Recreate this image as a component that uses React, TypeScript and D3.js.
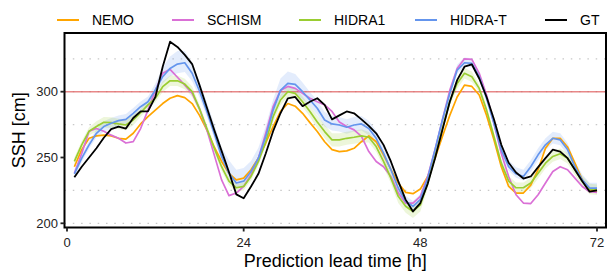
import React from "react";
import * as d3 from "d3";

// ---- data (hourly lead times 1..72) ----
const leadHours = [
  1, 2, 3, 4, 5, 6, 7, 8, 9, 10, 11, 12, 13, 14, 15, 16, 17, 18,
  19, 20, 21, 22, 23, 24, 25, 26, 27, 28, 29, 30, 31, 32, 33, 34, 35, 36,
  37, 38, 39, 40, 41, 42, 43, 44, 45, 46, 47, 48, 49, 50, 51, 52, 53, 54,
  55, 56, 57, 58, 59, 60, 61, 62, 63, 64, 65, 66, 67, 68, 69, 70, 71, 72,
];

const nemo = [
  243, 256, 264.6, 266.4, 267, 266.4, 264.6, 264, 268.4, 275.5, 281, 286, 291, 295, 297, 295.5, 291, 282,
  271, 258, 247, 238, 233, 234.3, 240.7, 249.5, 261, 273.5, 285, 291, 289, 283.6, 276.5, 269.7, 262, 256,
  254.5, 255, 257, 262, 266.4, 262, 252, 241, 230.6, 223.5, 222.5, 226, 235.6, 249.5, 266, 282, 296, 305,
  304, 297.5, 282, 263.4, 243, 228, 223, 223, 229, 240.7, 257, 264.6, 264.6, 258, 245.7, 233, 225.5, 224,
];

const schism = [
  238, 253, 270, 272, 270, 267, 264.6, 261, 262, 272, 286, 301, 314, 317, 311, 305, 298.7, 287,
  271, 252, 233, 221, 223, 228, 237, 249.5, 268.4, 288.6, 301, 304, 302.5, 298.7, 295, 292.4, 290, 285,
  277, 273.5, 271, 266, 254.5, 247, 243, 235.6, 223, 215.4, 215.4, 220.5, 235.6, 256, 278.5, 301, 317.7, 325,
  324.5, 314, 297.5, 276, 253, 235.6, 221.7, 215.4, 215, 221.7, 230.6, 239.4, 243, 240.7, 234.3, 228, 224, 223.5,
];

const hidra1 = [
  247, 259.6, 270, 273.5, 276.8, 276.5, 275.5, 274.7, 278.5, 284, 290, 295, 303.8, 308.3, 308.3, 305.8, 300, 287,
  272, 257, 243, 232, 227, 228, 235.6, 247, 262, 281, 293.7, 300, 298.7, 292.4, 285, 277, 269.7, 263.4,
  263.4, 264.6, 265.4, 266.4, 265.4, 258.3, 247, 234.3, 220.5, 213, 209, 214, 230.6, 250.8, 272, 292.4, 306.3, 314,
  311.4, 302.5, 286, 266, 245.7, 232, 227, 227, 230.6, 238, 245.7, 250.8, 252.8, 249.5, 240.7, 232, 226, 225.5,
];

const hidraT = [
  237.6, 249.5, 259.6, 268.4, 273.5, 276, 278, 279, 283.6, 288.6, 292.4, 301.3, 311.4, 317.7, 321, 322, 314, 300.5,
  285, 268.4, 250.8, 238, 230.6, 232, 239.4, 249.5, 266, 286, 301, 306.3, 305.5, 300, 293.7, 287.4, 278.5, 275.5,
  274.7, 273, 274.7, 275.5, 272, 264.6, 253.3, 240.7, 226.8, 216.7, 212.9, 218, 234.3, 256, 278.5, 298.7, 316.4, 322,
  321.5, 311.4, 295, 276, 255.8, 243, 237.6, 235.6, 243, 252, 259.6, 264.6, 263.4, 256, 243, 233, 226.8, 226.8,
];

const groundTruth = [
  235, 243, 250, 257, 265, 271.5, 273.5, 272, 280, 285, 285, 296, 319, 338, 334, 328, 321, 305,
  288, 271, 255, 239, 222, 219, 228, 237.6, 253, 270, 283.6, 295, 296, 289, 292.4, 295, 290, 279,
  282, 285, 283.6, 279, 274, 268.4, 259.6, 247, 232, 218, 209, 215.4, 230, 249.5, 271, 292.4, 308.8, 319,
  320.7, 310, 296, 279, 259.6, 246, 238.6, 234, 235.6, 242.7, 249.5, 256, 254.5, 249.5, 240.7, 232, 224, 225,
];

// band spreads (cm above / below the line)
const hidraTUp = [
  3, 3, 3, 3, 4, 4, 4, 4, 4, 4, 4, 5, 7, 9, 10, 9, 8, 7,
  7, 7, 7, 10, 10, 10, 8, 8, 8, 8, 9, 9, 8, 7, 6, 6, 6, 6,
  6, 6, 6, 6, 6, 6, 6, 6, 6, 4, 4, 4, 3, 3, 3, 3, 4, 4,
  4, 3, 3, 3, 5, 5, 5, 5, 5, 5, 5, 5, 5, 5, 4, 4, 4, 4,
];
const hidraTDown = [
  3, 3, 3, 3, 4, 4, 4, 4, 4, 4, 4, 4, 5, 6, 7, 7, 6, 5,
  4, 4, 4, 4, 4, 4, 4, 4, 4, 5, 6, 7, 7, 6, 5, 5, 5, 5,
  5, 5, 5, 5, 5, 4, 4, 4, 4, 3, 3, 3, 3, 3, 3, 3, 3, 3,
  3, 3, 3, 3, 3, 3, 3, 3, 4, 4, 4, 4, 4, 4, 3, 3, 3, 3,
];
const hidra1Spread = [
  3, 3, 3, 4, 4, 4, 4, 4, 4, 3, 3, 3, 4, 4, 4, 4, 4, 3,
  3, 3, 3, 3, 3, 3, 3, 3, 3, 4, 4, 4, 4, 4, 4, 5, 5, 5,
  5, 5, 5, 5, 4, 4, 4, 4, 5, 5, 5, 5, 4, 3, 3, 3, 4, 4,
  4, 3, 3, 3, 3, 4, 4, 4, 4, 4, 4, 4, 4, 4, 4, 4, 4, 4,
];

const seriesNames = ["NEMO", "SCHISM", "HIDRA1", "HIDRA-T", "GT"];
const seriesColors = ["#FFA500", "#DA70D6", "#9ACD32", "#6495ED", "#000000"];
const seriesValues = [nemo, schism, hidra1, hidraT, groundTruth];

const xTicks = [0, 24, 48, 72];
const yTicks = [200, 250, 300];
const gridValues = [200, 225, 275, 300, 325];
const threshold = 300;

const W = 608;
const H = 271;
const FONT = "'Liberation Sans', Arial, Helvetica, sans-serif";

export default function App() {
  const frame = { left: 64.5, right: 606, top: 33, bottom: 227.5 };
  const x = d3.scaleLinear().domain([0, 72]).range([67, 597]);
  const y = d3.scaleLinear().domain([200, 300]).range([223.3, 91.7]);

  const line = d3
    .line<number>()
    .x((_, i) => x(leadHours[i]))
    .y((d) => y(d));

  const area = (vals: number[], up: number[], down: number[]) =>
    d3
      .area<number>()
      .x((_, i) => x(leadHours[i]))
      .y0((d, i) => y(d - down[i]))
      .y1((d, i) => y(d + up[i]))(vals) || "";

  const legendItems = [
    { lx: 57, tx: 92 },
    { lx: 172, tx: 207 },
    { lx: 299, tx: 334 },
    { lx: 415, tx: 450 },
    { lx: 545, tx: 580 },
  ];
  const legendY = 20;

  return (
    <svg
      width={W}
      height={H}
      style={{ position: "absolute", left: 0, top: 0, background: "#fff" }}
      fontFamily={FONT}
    >
      <rect x={0} y={0} width={W} height={H} fill="#fff" />
      <defs>
        <clipPath id="panel">
          <rect
            x={frame.left}
            y={frame.top}
            width={frame.right - frame.left}
            height={frame.bottom - frame.top}
          />
        </clipPath>
      </defs>

      {/* grid */}
      {gridValues.map((g) => (
        <line
          key={g}
          x1={frame.left}
          x2={frame.right}
          y1={y(g)}
          y2={y(g)}
          stroke="#c8c8c8"
          strokeWidth={1.3}
          strokeDasharray="1.5,6.8"
        />
      ))}

      <g clipPath="url(#panel)">
        {/* bands */}
        <path d={area(hidraT, hidraTUp, hidraTDown)} fill="#6495ED" fillOpacity={0.18} />
        <path d={area(hidra1, hidra1Spread, hidra1Spread)} fill="#9ACD32" fillOpacity={0.18} />

        {/* threshold */}
        <line
          x1={frame.left}
          x2={frame.right}
          y1={y(threshold)}
          y2={y(threshold)}
          stroke="#E06060"
          strokeOpacity={0.75}
          strokeWidth={1.6}
        />

        {seriesValues.map((vals, i) => (
          <path
            key={seriesNames[i]}
            d={line(vals) || ""}
            fill="none"
            stroke={seriesColors[i]}
            strokeWidth={i === 4 ? 1.8 : 1.7}
            strokeLinejoin="round"
          />
        ))}
      </g>

      {/* frame */}
      <rect
        x={frame.left}
        y={frame.top}
        width={frame.right - frame.left}
        height={frame.bottom - frame.top}
        fill="none"
        stroke="#000"
        strokeWidth={2}
      />

      {/* y axis */}
      {yTicks.map((t) => (
        <g key={t}>
          <line x1={60.5} x2={frame.left} y1={y(t)} y2={y(t)} stroke="#222" strokeWidth={1.8} />
          <text
            x={58}
            y={y(t)}
            dy="0.36em"
            textAnchor="end"
            fontSize={13}
            fill="#222"
          >
            {t}
          </text>
        </g>
      ))}

      {/* x axis */}
      {xTicks.map((t) => (
        <g key={t}>
          <line x1={x(t)} x2={x(t)} y1={frame.bottom} y2={frame.bottom + 4} stroke="#222" strokeWidth={1.8} />
          <text x={x(t)} y={frame.bottom + 19} textAnchor="middle" fontSize={13} fill="#222">
            {t}
          </text>
        </g>
      ))}

      {/* axis titles */}
      <text
        x={(frame.left + frame.right) / 2}
        y={267}
        textAnchor="middle"
        fontSize={18}
        fill="#000"
      >
        Prediction lead time [h]
      </text>
      <text
        transform={`translate(25,${(frame.top + frame.bottom) / 2}) rotate(-90)`}
        textAnchor="middle"
        fontSize={18}
        fill="#000"
      >
        SSH [cm]
      </text>

      {/* legend */}
      {seriesNames.map((name, i) => (
        <g key={name}>
          <line
            x1={legendItems[i].lx}
            x2={legendItems[i].lx + 22}
            y1={legendY}
            y2={legendY}
            stroke={seriesColors[i]}
            strokeWidth={2}
          />
          <text x={legendItems[i].tx} y={legendY} dy="0.36em" fontSize={14} fill="#000">
            {name}
          </text>
        </g>
      ))}
    </svg>
  );
}
